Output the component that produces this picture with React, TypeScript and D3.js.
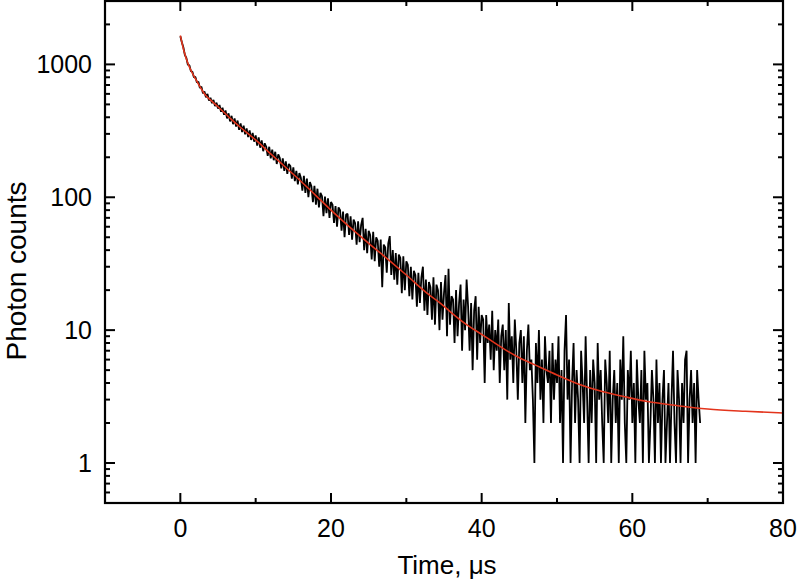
import React from "react";
import * as d3 from "d3";

// Photon counts per channel, channel width 0.2 μs, starting at t = 0
const timeStep = 0.2;
const photonCounts = [
  1630, 1470, 1345, 1180, 1120, 995, 985, 890, 880, 800, 805, 730, 740, 665, 680, 605, 625, 565, 600, 535, 560, 510, 540, 485, 515, 465,
  495, 440, 472, 418, 450, 392, 428, 372, 410, 355, 392, 340, 378, 322, 360, 310, 346, 298, 330, 284, 318, 270, 305, 262, 292,
  245, 282, 236, 268, 222, 255, 240, 205, 240, 196, 228, 190, 220, 178, 210, 198, 165, 196, 158, 186, 150, 178, 172, 138, 168, 132, 158, 125, 152, 140,
  112, 145, 108, 138, 100, 130, 121, 92, 122, 88, 116, 84, 108, 102, 72, 101, 76, 98, 70, 92, 88, 64, 86, 60, 84, 80, 56, 78, 50, 74,
  75, 52, 72, 48, 68, 64, 44, 66, 46, 62, 70, 40, 58, 38, 56, 52, 34, 55, 33, 50, 47, 30, 48, 21, 44, 42, 27, 45, 51, 26, 40, 24, 38, 22, 37, 35, 19, 36, 20, 33,
  31, 18, 30, 17, 28, 26, 15, 27, 16, 25, 30, 14, 24, 13, 23, 21, 12, 25, 11, 22, 20, 10, 23, 12, 19, 26, 9, 29, 11, 18, 17, 8, 20, 9, 16, 22, 7, 17, 10, 24, 15, 7, 16, 5, 14, 18, 6, 15, 8, 13,
  12, 4, 13, 8, 11, 6, 14, 5, 10, 7, 12, 4, 9, 11, 5, 10, 3, 16, 6, 9, 4, 12, 7, 3, 8, 10, 4, 9, 2, 7, 11, 5, 6, 3, 1, 8, 4, 10, 3, 6, 2, 9, 5, 4, 7, 2, 8, 3, 6, 4,
  9, 2, 5, 1, 7, 13, 3, 6, 1, 4, 8, 2, 5, 3, 1, 7, 4, 2, 9, 3, 1, 5, 2, 6, 4, 1, 8, 3, 5, 2, 1, 6, 4, 2, 7, 1, 3, 5, 2, 4, 1, 6, 3, 9, 2, 1, 5, 3, 7, 2,
  4, 1, 6, 3, 2, 5, 1, 7, 3, 4, 1, 2, 5, 3, 1, 6, 2, 4, 1, 3, 5, 1, 2, 4, 1, 3, 7, 2, 1, 5, 3, 1, 4, 2, 6, 7, 1, 3, 5, 2, 4, 1, 5, 3, 2,
];

// Fitted decay curve
const fitTimes = [0, 0.5, 1, 1.5, 2, 2.5, 3, 3.3, 4, 5, 6, 6.6, 8, 10, 12, 13.3, 16, 18, 20, 22, 25, 28, 30, 33, 34.5, 36, 38, 40, 43, 45, 47, 50, 53, 56, 59, 62, 66, 70, 75, 80];
const fitCounts = [1650, 1250, 1020, 880, 780, 695, 625, 590, 540, 480, 425, 394, 335, 270, 212, 182, 132, 103, 80, 63, 45, 32.5, 26, 18.5, 16, 13.5, 11, 9.3, 7.2, 6.2, 5.5, 4.6, 3.9, 3.45, 3.15, 2.9, 2.7, 2.55, 2.45, 2.38];

const xDomain = [-10, 80];
const yDomain = [0.5, 3000];
const xMajorTicks = [0, 20, 40, 60, 80];
const xMinorTicks = [10, 30, 50, 70];
const yMajorTicks = [1, 10, 100, 1000];
const yMajorLabels = ["1", "10", "100", "1000"];
const yMinorTicks = [0.6, 0.7, 0.8, 0.9, 2, 3, 4, 5, 6, 7, 8, 9, 20, 30, 40, 50, 60, 70, 80, 90, 200, 300, 400, 500, 600, 700, 800, 900, 2000];
const xTitle = "Time, μs";
const yTitle = "Photon counts";

export default function App() {
  const W = 798;
  const H = 583;
  const L = 105, R = 783, T = 1, B = 503;
  const x = d3.scaleLinear().domain(xDomain).range([L, R]);
  const y = d3.scaleLog().domain(yDomain).range([B, T]);
  const font = "'Liberation Sans', Arial, Helvetica, sans-serif";

  const dataLine = d3
    .line<number>()
    .x((_, i) => x(i * timeStep))
    .y((d) => y(d))(photonCounts) as string;

  const fitLine = d3
    .line<number>()
    .x((_, i) => x(fitTimes[i]))
    .y((d) => y(d))
    .curve(d3.curveMonotoneX)(fitCounts) as string;

  const majLen = 10;
  const minLen = 5;
  const tickStroke = 2;

  return (
    <svg width={W} height={H} style={{ position: "absolute", left: 0, top: 0, background: "#fff" }}>
      <defs>
        <clipPath id="plotClip">
          <rect x={L} y={T} width={R - L} height={B - T} />
        </clipPath>
      </defs>
      <rect x={0} y={0} width={W} height={H} fill="#fff" />
      <g clipPath="url(#plotClip)">
        <path d={dataLine} fill="none" stroke="#000" strokeWidth={1.8} strokeLinejoin="bevel" />
        <path d={fitLine} fill="none" stroke="#e3341c" strokeWidth={1.6} />
      </g>
      {/* ticks */}
      <g stroke="#000" strokeWidth={tickStroke}>
        {xMajorTicks.map((t) => (
          <g key={"xM" + t}>
            <line x1={x(t)} x2={x(t)} y1={B} y2={B - majLen} />
            <line x1={x(t)} x2={x(t)} y1={T} y2={T + majLen} />
          </g>
        ))}
        {xMinorTicks.map((t) => (
          <g key={"xm" + t}>
            <line x1={x(t)} x2={x(t)} y1={B} y2={B - minLen} />
            <line x1={x(t)} x2={x(t)} y1={T} y2={T + minLen} />
          </g>
        ))}
        {yMajorTicks.map((t) => (
          <g key={"yM" + t}>
            <line x1={L} x2={L + majLen} y1={y(t)} y2={y(t)} />
            <line x1={R} x2={R - majLen} y1={y(t)} y2={y(t)} />
          </g>
        ))}
        {yMinorTicks.map((t) => (
          <g key={"ym" + t}>
            <line x1={L} x2={L + minLen} y1={y(t)} y2={y(t)} />
            <line x1={R} x2={R - minLen} y1={y(t)} y2={y(t)} />
          </g>
        ))}
      </g>
      <rect x={L} y={T} width={R - L} height={B - T} fill="none" stroke="#000" strokeWidth={2.2} />
      {/* tick labels */}
      <g fontFamily={font} fontSize={25} fill="#000">
        {xMajorTicks.map((t) => (
          <text key={"xl" + t} x={x(t)} y={B + 34} textAnchor="middle">
            {t}
          </text>
        ))}
        {yMajorTicks.map((t, i) => (
          <text key={"yl" + t} x={L - 13} y={y(t) + 9} textAnchor="end">
            {yMajorLabels[i]}
          </text>
        ))}
      </g>
      <text x={447} y={574} textAnchor="middle" fontFamily={font} fontSize={26} fill="#000">
        {xTitle}
      </text>
      <text
        transform={`translate(26, 271) rotate(-90)`}
        textAnchor="middle"
        fontFamily={font}
        fontSize={28}
        fill="#000"
      >
        {yTitle}
      </text>
    </svg>
  );
}
